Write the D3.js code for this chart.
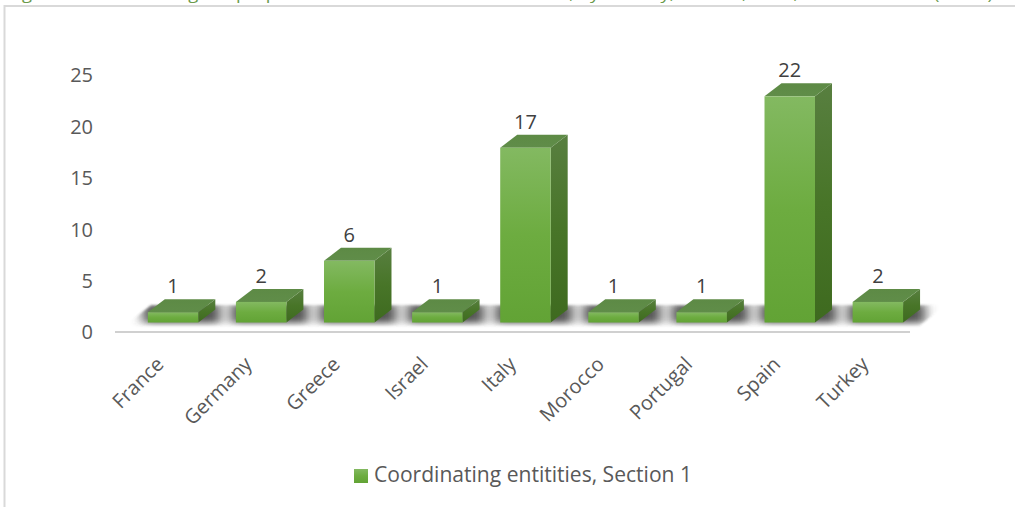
<!DOCTYPE html>
<html><head><meta charset="utf-8">
<script src="https://cdn.jsdelivr.net/npm/d3@7"></script>
<style>html,body{margin:0;padding:0;background:#fff;overflow:hidden}svg{display:block}</style>
</head><body><svg id="c" width="1015" height="507"></svg>
<script>
const categories = ["France","Germany","Greece","Israel","Italy","Morocco","Portugal","Spain","Turkey"];
const values = [1,2,6,1,17,1,1,22,2];
const yTicks = [0,5,10,15,20,25];
const seriesName = "Coordinating entitities, Section 1";
const captionText = "Figure 10: Role among the proposals of the sector in the Section 1, by country, in 2015, 2016, 2018 and 2019 (share)";

const svg = d3.select("#c");
const W = 1015, H = 507;
const x = d3.scaleBand().domain(categories).range([129, 921.9]).paddingInner(0.427).paddingOuter(0.2135);
const y = d3.scaleLinear().domain([0,25]).range([322.5,65.5]);
const depthX = 17, depthY = 13, axisDrop = 10;

const defs = svg.append("defs");
function grad(id, stops){
  const g = defs.append("linearGradient").attr("id",id).attr("x1",0).attr("y1",0).attr("x2",0).attr("y2",1);
  stops.forEach(s=>g.append("stop").attr("offset",s[0]).attr("stop-color",s[1]));
}
grad("front",[[0,"#83b961"],[0.5,"#6dac40"],[1,"#62a335"]]);
grad("side",[[0,"#587f40"],[0.5,"#487528"],[1,"#3e6a1f"]]);
grad("top",[[0,"#5d8a45"],[1,"#608d49"]]);
function blurF(id,sd){
  defs.append("filter").attr("id",id).attr("x","-30%").attr("y","-60%").attr("width","160%").attr("height","220%")
    .append("feGaussianBlur").attr("stdDeviation",sd);
}
blurF("blur","6 3"); blurF("blur2",1.2);
const floorPts = [[125,326],[919,326],[945,305],[151,305]];
defs.append("clipPath").attr("id","floor").append("polygon").attr("points",floorPts.join(" "));

// caption clipped by the page top, and chart frame
svg.append("text").attr("x",8).attr("y",-1).attr("font-family","Open Sans").attr("font-size",15)
  .attr("fill","#6a9a4a").attr("textLength",985).attr("lengthAdjust","spacingAndGlyphs").text(captionText);
svg.append("path").attr("d",`M${W},6H4.5V${H}`).attr("fill","none").attr("stroke","#d9d9d9").attr("stroke-width",2);

// y axis
const yAxis = d3.axisLeft(y).tickValues(yTicks).tickSize(0).tickPadding(0);
const ga = svg.append("g").attr("transform",`translate(93,${axisDrop})`).call(yAxis);
ga.select(".domain").remove();
ga.selectAll("text").attr("font-family","Open Sans").attr("font-size",20).attr("fill","#595959");

// floor shadow
const sh = svg.append("g").attr("filter","url(#blur2)").append("g").attr("clip-path","url(#floor)").append("g").attr("filter","url(#blur)");
sh.selectAll("rect").data(categories).join("rect")
  .attr("x",d=>x(d)-5).attr("width",x.bandwidth()+27)
  .attr("y",304).attr("height",19).attr("fill","#404040").attr("opacity",0.9);

// axis baseline
const xAxis = d3.axisBottom(x).tickSize(0).tickPadding(0);
const gx = svg.append("g").attr("transform",`translate(0,${y(0)+axisDrop})`).call(xAxis);
gx.select(".domain").remove();
svg.append("line").attr("x1",115).attr("x2",910).attr("y1",332).attr("y2",332).attr("stroke","#d0d0d0").attr("stroke-width",2);
gx.selectAll(".tick text")
  .attr("font-family","Open Sans").attr("font-size",20).attr("fill","#595959")
  .attr("text-anchor","end").attr("dy",0)
  .attr("transform","translate(-8,33) rotate(-45)");

// bars
const bars = svg.append("g").selectAll("g").data(categories).join("g");
const bw = x.bandwidth();
bars.append("polygon").attr("fill","url(#side)").attr("points",(d,i)=>{
  const r=x(d)+bw, t=y(values[i]), b=y(0);
  return [[r,t],[r+depthX,t-depthY],[r+depthX,b-depthY],[r,b]].join(" ");});
bars.append("polygon").attr("fill","url(#top)").attr("points",(d,i)=>{
  const l=x(d), r=l+bw, t=y(values[i]);
  return [[l,t],[l+depthX,t-depthY],[r+depthX,t-depthY],[r,t]].join(" ");});
bars.append("rect").attr("x",d=>x(d)).attr("width",bw)
  .attr("y",(d,i)=>y(values[i])).attr("height",(d,i)=>y(0)-y(values[i]))
  .attr("fill","url(#front)");
bars.append("text").attr("x",d=>x(d)+bw/2).attr("y",(d,i)=>y(values[i])-depthY-6)
  .attr("text-anchor","middle").attr("font-family","Open Sans").attr("font-size",20).attr("fill","#404040")
  .text((d,i)=>values[i]);

// legend
svg.append("rect").attr("x",354).attr("y",469).attr("width",14).attr("height",14).attr("fill","url(#front)");
svg.append("text").attr("x",374).attr("y",482).attr("font-family","Open Sans").attr("font-size",21)
  .attr("fill","#595959").attr("textLength",318).attr("lengthAdjust","spacingAndGlyphs").text(seriesName);
</script></body></html>
